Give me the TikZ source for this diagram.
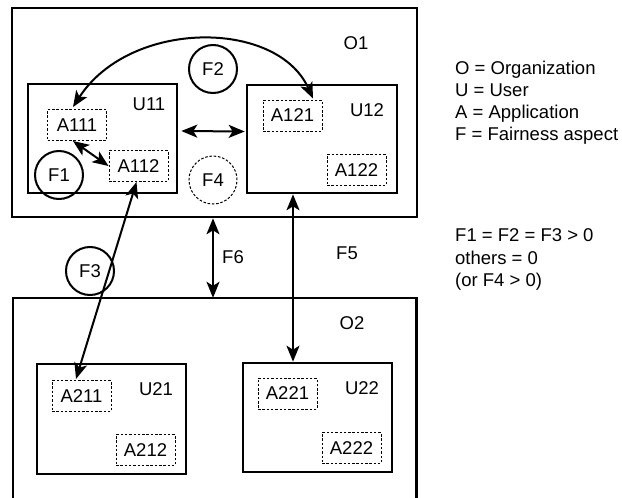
\documentclass[tikz,border=0pt]{standalone}
\usepackage{fontspec}
\setmainfont{Liberation Sans}
\usetikzlibrary{arrows.meta}
\begin{document}
\begin{tikzpicture}[x=1pt,y=-1pt,
  every node/.style={font=\fontsize{18.5}{22}\selectfont, inner sep=0pt},
  obox/.style={draw, line width=2.6pt},
  ubox/.style={draw, line width=2.6pt},
  abox/.style={draw, line width=1pt, dash pattern=on 2.5pt off 1.8pt, minimum width=59pt, minimum height=31pt},
  fcirc/.style={draw, circle, line width=2pt, minimum size=48pt},
  fdot/.style={draw, circle, line width=1pt, dash pattern=on 2.5pt off 1.8pt, minimum size=48pt},
  tip/.tip={Stealth[length=16pt,width=13pt,inset=4pt]},
  dbl/.style={line width=2pt, tip-tip},
  lbl/.style={anchor=center},
  leg/.style={anchor=base west}
]
\useasboundingbox (0,0) rectangle (622,498);

% organization 1
\node[obox, minimum width=405pt, minimum height=209pt] (O1) at (214.5,112.5) {};
\node[lbl] (O1l) at (356,43) {O1};
\node[ubox, minimum width=149pt, minimum height=109pt] (U11) at (102.5,138.5) {};
\node[lbl] (U11l) at (149,104) {U11};
\node[ubox, minimum width=150pt, minimum height=108pt] (U12) at (322,139) {};
\node[lbl] (U12l) at (367,110) {U12};
\node[abox] (A111) at (77,125) {A111};
\node[abox] (A112) at (138.5,166) {A112};
\node[abox] (A121) at (292.5,115.5) {A121};
\node[abox] (A122) at (356.5,170) {A122};
\node[fcirc] (F2) at (213,69) {F2};
\node[fcirc] (F1) at (59,175) {F1};
\node[fdot] (F4) at (213,180) {F4};

% organization 2 (cut at the bottom)
\node[minimum width=403pt, minimum height=200pt] (O2) at (214.5,398) {};
\draw[line width=2.6pt] (O2.south west) -- (O2.north west) -- (O2.north east) -- (O2.south east);
\node[lbl] (O2l) at (352,323) {O2};
\node[ubox, minimum width=149pt, minimum height=110pt] (U21) at (111.5,419) {};
\node[lbl] (U21l) at (156,389) {U21};
\node[ubox, minimum width=149pt, minimum height=109pt] (U22) at (317.5,417.5) {};
\node[lbl] (U22l) at (362,388) {U22};
\node[abox] (A211) at (81.5,396) {A211};
\node[abox] (A212) at (145.5,450) {A212};
\node[abox] (A221) at (287.5,393.5) {A221};
\node[abox] (A222) at (351.5,448) {A222};
\node[fcirc] (F3) at (90,271) {F3};
\node[lbl] (F6) at (233,257) {F6};
\node[lbl] (F5) at (347,253) {F5};

% connectors
\draw[dbl] ([xshift=3pt,yshift=7.5pt]U11.east) -- ([xshift=-1pt,yshift=7.5pt]U12.west);
\draw[dbl] ([xshift=-4pt]A111.south) -- (A112.west);
\draw[dbl] ([xshift=-4pt,yshift=2pt]A111.north) .. controls (130,19) and (277,19) .. ([xshift=20.5pt,yshift=1pt]A121.north);
\draw[dbl] ([xshift=-2pt]A112.south) -- ([xshift=-5.5pt,yshift=1pt]A211.north);
\draw[dbl] ([xshift=-1.5pt]O1.south) -- ([xshift=-1.5pt]O2.north);
\draw[dbl] ([xshift=-29pt]U12.south) -- ([xshift=-29pt]U12.south |- U22.north);

% legend
\node[leg] (L1) at (455,74.3) {O = Organization};
\node[leg] (L2) at (455,96.5) {U = User};
\node[leg] (L3) at (455,118.5) {A = Application};
\node[leg] (L4) at (455,140.5) {F = Fairness aspect};
\node[leg] (L5) at (455,241.7) {F1 = F2 = F3 > 0};
\node[leg] (L6) at (455,264.2) {others = 0};
\node[leg] (L7) at (455,286.7) {(or F4 > 0)};
\end{tikzpicture}
\end{document}
